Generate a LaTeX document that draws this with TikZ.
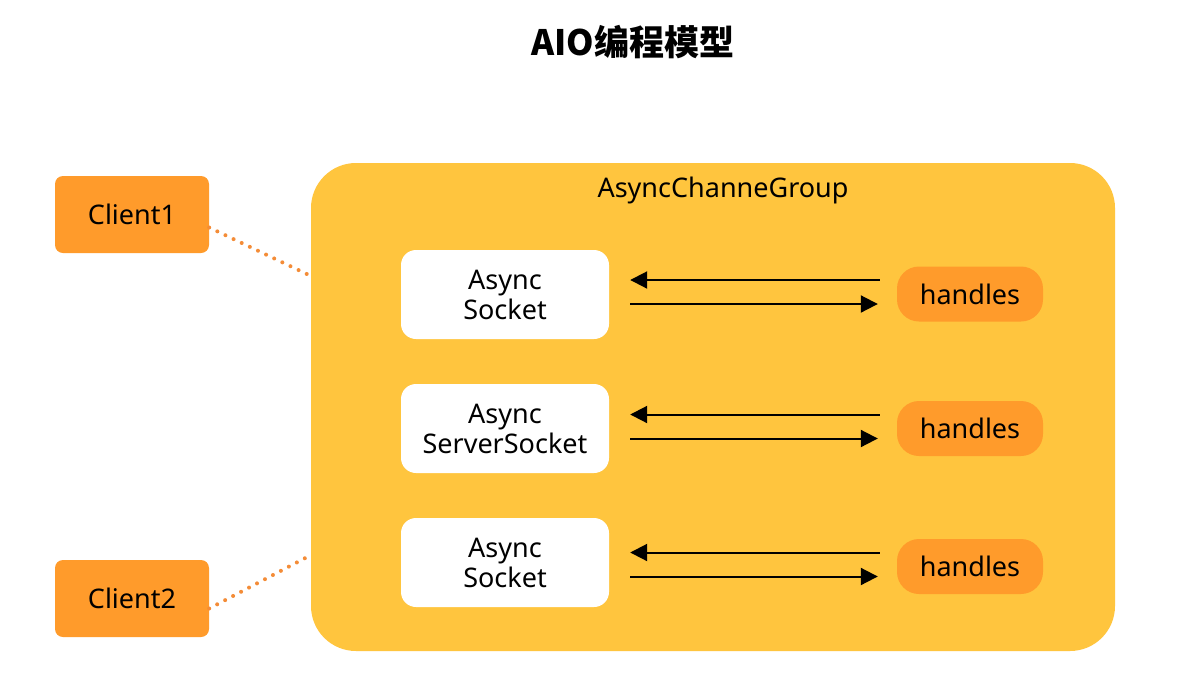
\documentclass[tikz,border=0pt]{standalone}
\usepackage{fontspec}
\setmainfont{Noto Sans}
\newfontfamily\cjk{Noto Sans CJK SC}
\usetikzlibrary{arrows.meta}

\definecolor{clientorange}{RGB}{255,155,43}
\definecolor{groupyellow}{RGB}{255,197,62}
\definecolor{dotorange}{RGB}{244,140,55}

\tikzset{
  client/.style={fill=clientorange, rounded corners=8pt, minimum width=154pt, minimum height=77pt, inner sep=0pt, font=\fontsize{27}{30}\selectfont},
  handler/.style={fill=clientorange, rounded corners=22pt, minimum width=146pt, minimum height=55pt, inner sep=0pt, font=\fontsize{27}{30}\selectfont},
  socketbox/.style={fill=white, rounded corners=15pt, minimum width=208pt, minimum height=89pt, inner sep=0pt, align=center, font=\fontsize{27}{30}\selectfont},
  group/.style={fill=groupyellow, rounded corners=45pt, minimum width=804pt, minimum height=488pt, inner sep=0pt},
  msg/.style={-{Triangle[length=17pt,width=17pt]}, line width=2pt},
  link/.style={dotorange, line width=4pt, line cap=round, dash pattern=on 0pt off 9pt}
}

\begin{document}
\begin{tikzpicture}[x=1pt,y=-1pt]
  \useasboundingbox[fill=white] (0,0) rectangle (1180,686);

  % title
  \node[font=\cjk\bfseries\fontsize{35}{38}\selectfont] (title) at (633,42) {AIO编程模型};

  % channel group
  \node[group] (grp) at (713,407) {};
  \node[font=\fontsize{27}{30}\selectfont] (grptitle) at (723,190) {AsyncChanneGroup};

  % clients
  \node[client] (c1) at (132,214.5) {Client1};
  \node[client] (c2) at (132,598.5) {Client2};
  \coordinate (g1) at (311,276);
  \coordinate (g2) at (311,555);
  \draw[link] ([yshift=-13pt]c1.east) -- (g1);
  \draw[link] ([yshift=-10pt]c2.east) -- (g2);

  % sockets and handles
  \node[socketbox] (s1) at (505,294.5) {Async\\Socket};
  \node[socketbox] (s2) at (505,428.5) {Async\\ServerSocket};
  \node[socketbox] (s3) at (505,562.5) {Async\\Socket};

  \node[handler] (h1) at (970,294) {handles};
  \node[handler] (h2) at (970,428.5) {handles};
  \node[handler] (h3) at (970,566.5) {handles};

  \foreach \i in {1,2,3}{
    \draw[msg, shorten <=17pt, shorten >=21pt] ([yshift=14pt]h\i.west) -- ([yshift=14pt]h\i.west -| s\i.east);
    \draw[msg, shorten <=21pt, shorten >=19pt] ([yshift=-10pt]h\i.west -| s\i.east) -- ([yshift=-10pt]h\i.west);
  }

\end{tikzpicture}
\end{document}
